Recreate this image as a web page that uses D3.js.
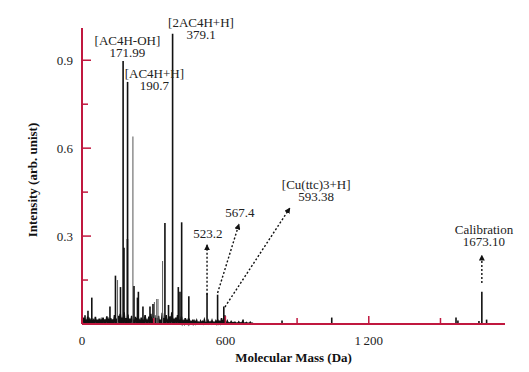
<!DOCTYPE html>
<html>
<head>
<meta charset="utf-8">
<script src="https://cdn.jsdelivr.net/npm/d3@7"></script>
<style>
  body { margin: 0; background: #fff; }
  svg { display: block; font-family: "Liberation Serif", "DejaVu Serif", serif; }
</style>
</head>
<body>
<div id="chart"></div>
<script>
// main peaks (mass Da, intensity)
const peakMass = [12.6, 25, 41, 117, 140, 161, 172, 175.7, 190, 190.7, 217.6, 232, 236, 255, 284.5, 297,
	347, 362, 379.1, 403, 410, 417, 447, 523.2, 567.4, 593.38, 598, 674, 837, 1045, 1565, 1573, 1661, 1673.1, 1693]
const peakInt = [0.03, 0.045, 0.09, 0.06, 0.165, 0.126, 0.897, 0.26, 0.29, 0.826, 0.13, 0.09, 0.11, 0.06, 0.06, 0.068,
	0.345, 0.065, 0.99, 0.126, 0.11, 0.347, 0.095, 0.105, 0.10, 0.06, 0.03, 0.015, 0.012, 0.022, 0.022, 0.012, 0.01, 0.11, 0.015]

// thinner, lighter peaks
const minorMass = [148.5, 213, 303, 312.5, 318, 337]
const minorInt = [0.15, 0.64, 0.075, 0.085, 0.085, 0.215]

// baseline noise, one value every 8 Da from 0
const noiseStep = 8
const noiseInt = [
	0.016, 0.022, 0.012, 0.025, 0.014, 0.02, 0.012, 0.024, 0.015, 0.018,
	0.014, 0.022, 0.016, 0.026, 0.014, 0.02, 0.016, 0.03, 0.018, 0.028,
	0.035, 0.022, 0.04, 0.02, 0.032, 0.018, 0.028, 0.015, 0.024, 0.02,
	0.012, 0.022, 0.015, 0.03, 0.012, 0.025, 0.035, 0.018, 0.03, 0.02,
	0.028, 0.015, 0.038, 0.02, 0.03, 0.012, 0.026, 0.04, 0.018, 0.022,
	0.03, 0.015, 0.025, 0.01, 0.02, 0.012, 0.018, 0.008, 0.015, 0.01,
	0.012, 0.006, 0.01, 0.008, 0.014, 0.005, 0.011, 0.007, 0.012, 0.006,
	0.01, 0.015, 0.008, 0.02, 0.012, 0.006, 0.01, 0.004, 0.008, 0.005,
	0.006, 0.003, 0.007, 0.004, 0.008, 0.003, 0.005, 0.002, 0.006, 0.002
]

const xTickValues = [0, 600, 1200]
const xMinorTicks = [300, 900, 1500]
const yTickValues = [0.3, 0.6, 0.9]
const yMinorTicks = [0.15, 0.45, 0.75]

// annotation labels: text lines, anchor (mass, intensity) of first baseline
const labelLines = [["[2AC4H+H]", "379.1"], ["[AC4H-OH]", "171.99"], ["[AC4H+H]", "190.7"],
	["[Cu(ttc)3+H]", "593.38"], ["523.2"], ["567.4"], ["Calibration", "1673.10"]]
const labelMass = [498, 190, 303, 980, 527, 661, 1682]
const labelInt = [1.013, 0.952, 0.839, 0.461, 0.293, 0.365, 0.307]

// dotted arrows: from (mass, int) to (mass, int)
const arrowFrom = [[523.2, 0.10], [567.4, 0.106], [598, 0.058], [1673.1, 0.14]]
const arrowTo = [[523.2, 0.27], [657, 0.341], [870, 0.396], [1673.1, 0.235]]

const W = 529, H = 372
const red = "#c0183f"

const x = d3.scaleLinear().domain([0, 1770]).range([82, 505])
const y = d3.scaleLinear().domain([0, 1.01]).range([324, 28])

const svg = d3.select("#chart").append("svg")
	.attr("width", W)
	.attr("height", H)

svg.append("defs").append("marker")
	.attr("id", "head")
	.attr("viewBox", "0 0 10 10")
	.attr("refX", 9)
	.attr("refY", 5)
	.attr("markerWidth", 6)
	.attr("markerHeight", 6)
	.attr("markerUnits", "userSpaceOnUse")
	.attr("orient", "auto")
	.append("path")
	.attr("d", "M0,0 L10,5 L0,10 Z")
	.attr("fill", "#111")

// noise band
const noisePts = []
noiseInt.forEach(function(v, i) {
	noisePts.push([i * noiseStep, v])
	noisePts.push([i * noiseStep + noiseStep / 2, 0.002])
})
svg.append("path")
	.attr("d", d3.line().x(d => x(d[0])).y(d => y(d[1]))(noisePts))
	.attr("fill", "none")
	.attr("stroke", "#111")
	.attr("stroke-width", 1.6)

svg.append("g").selectAll("line")
	.data(minorMass.map((m, i) => [m, minorInt[i]]))
	.enter().append("line")
	.attr("x1", d => x(d[0])).attr("x2", d => x(d[0]))
	.attr("y1", y(0)).attr("y2", d => y(d[1]))
	.attr("stroke", "#666")
	.attr("stroke-width", 1.1)

svg.append("g").selectAll("line")
	.data(peakMass.map((m, i) => [m, peakInt[i]]))
	.enter().append("line")
	.attr("x1", d => x(d[0])).attr("x2", d => x(d[0]))
	.attr("y1", y(0)).attr("y2", d => y(d[1]))
	.attr("stroke", "#111")
	.attr("stroke-width", 1.6)

// axes
const xAxis = svg.append("g").attr("transform", `translate(0,${y(0)})`)
xAxis.append("line")
	.attr("x1", x.range()[0]).attr("x2", x.range()[1])
	.attr("stroke", red).attr("stroke-width", 2)
xAxis.selectAll(".maj").data(xTickValues).enter().append("line")
	.attr("x1", x).attr("x2", x).attr("y1", 0).attr("y2", -8)
	.attr("stroke", red).attr("stroke-width", 1.5)
xAxis.selectAll(".min").data(xMinorTicks).enter().append("line")
	.attr("x1", x).attr("x2", x).attr("y1", 0).attr("y2", -6)
	.attr("stroke", red).attr("stroke-width", 1.5)
xAxis.selectAll("text").data(xTickValues).enter().append("text")
	.attr("x", x).attr("y", 21)
	.attr("text-anchor", "middle")
	.attr("font-size", 13)
	.attr("fill", "#222")
	.text(d => d >= 1000 ? String(d).replace(/(\d)(\d{3})$/, "$1\u2009$2") : d)

const yAxis = svg.append("g").attr("transform", `translate(${x(0)},0)`)
yAxis.append("line")
	.attr("y1", y.range()[0]).attr("y2", y.range()[1])
	.attr("stroke", red).attr("stroke-width", 2)
yAxis.selectAll(".maj").data(yTickValues).enter().append("line")
	.attr("y1", y).attr("y2", y).attr("x1", 0).attr("x2", 9)
	.attr("stroke", red).attr("stroke-width", 1.5)
yAxis.selectAll(".min").data(yMinorTicks).enter().append("line")
	.attr("y1", y).attr("y2", y).attr("x1", 0).attr("x2", 6)
	.attr("stroke", red).attr("stroke-width", 1.5)
yAxis.selectAll("text").data(yTickValues).enter().append("text")
	.attr("x", -9).attr("y", d => y(d) + 4.5)
	.attr("text-anchor", "end")
	.attr("font-size", 13)
	.attr("fill", "#222")
	.text(d => d)

svg.append("text")
	.attr("x", (x.range()[0] + x.range()[1]) / 2)
	.attr("y", 362)
	.attr("text-anchor", "middle")
	.attr("font-size", 13)
	.attr("font-weight", "bold")
	.attr("fill", "#111")
	.text("Molecular Mass (Da)")

svg.append("text")
	.attr("transform", `translate(37,${(y.range()[0] + y.range()[1]) / 2 + 4}) rotate(-90)`)
	.attr("text-anchor", "middle")
	.attr("font-size", 13)
	.attr("font-weight", "bold")
	.attr("fill", "#111")
	.text("Intensity (arb. unist)")

// arrows
svg.append("g").selectAll("line")
	.data(arrowFrom.map((f, i) => [f, arrowTo[i]]))
	.enter().append("line")
	.attr("x1", d => x(d[0][0])).attr("y1", d => y(d[0][1]))
	.attr("x2", d => x(d[1][0])).attr("y2", d => y(d[1][1]))
	.attr("stroke", "#111")
	.attr("stroke-width", 1.4)
	.attr("stroke-dasharray", "2,2")
	.attr("marker-end", "url(#head)")

// labels
const labels = svg.append("g").selectAll("text")
	.data(labelLines.map((l, i) => ({lines: l, m: labelMass[i], v: labelInt[i]})))
	.enter().append("text")
	.attr("text-anchor", "middle")
	.attr("font-size", 13)
	.attr("fill", "#222")
labels.selectAll("tspan")
	.data(d => d.lines.map((t, j) => ({t: t, j: j, m: d.m, v: d.v})))
	.enter().append("tspan")
	.attr("x", d => x(d.m))
	.attr("y", d => y(d.v) + d.j * 12)
	.text(d => d.t)
</script>
</body>
</html>
